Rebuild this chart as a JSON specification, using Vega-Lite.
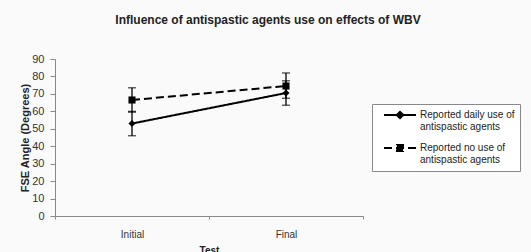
{
  "$schema": "https://vega.github.io/schema/vega-lite/v6.json",
  "autosize": "none",
  "width": 308,
  "height": 157,
  "padding": {"left": 55, "top": 59, "right": 168, "bottom": 36},
  "background": "#fafafa",
  "title": {
    "text": "Influence of antispastic agents use on effects of WBV",
    "anchor": "middle",
    "dx": 59,
    "offset": 26,
    "font": "Liberation Sans",
    "fontSize": 12,
    "fontWeight": "bold",
    "color": "#222222"
  },
  "data": {
    "values": [
      {"group": "daily", "test": "Initial", "mean": 53, "lo": 46, "hi": 60},
      {"group": "daily", "test": "Final", "mean": 70.5, "lo": 63.5, "hi": 77.5},
      {"group": "none", "test": "Initial", "mean": 66.5, "lo": 59.5, "hi": 73.5},
      {"group": "none", "test": "Final", "mean": 74.5, "lo": 67.5, "hi": 82}
    ]
  },
  "encoding": {
    "x": {
      "field": "test",
      "type": "nominal",
      "sort": ["Initial", "Final"],
      "scale": {"paddingInner": 0, "paddingOuter": 0},
      "axis": {"title": "Test", "labelAngle": 0, "tickBand": "extent"}
    }
  },
  "layer": [
    {
      "mark": {"type": "rule", "color": "black", "strokeWidth": 1.3},
      "encoding": {
        "y": {
          "field": "lo",
          "type": "quantitative",
          "scale": {"domain": [0, 90], "nice": false},
          "title": "FSE Angle (Degrees)"
        },
        "y2": {"field": "hi"}
      }
    },
    {
      "mark": {"type": "tick", "color": "black", "size": 8, "thickness": 1.3, "orient": "horizontal"},
      "encoding": {"y": {"field": "lo", "type": "quantitative"}}
    },
    {
      "mark": {"type": "tick", "color": "black", "size": 8, "thickness": 1.3, "orient": "horizontal"},
      "encoding": {"y": {"field": "hi", "type": "quantitative"}}
    },
    {
      "mark": {"type": "line", "color": "black", "strokeWidth": 2},
      "encoding": {
        "y": {"field": "mean", "type": "quantitative"},
        "detail": {"field": "group"},
        "strokeDash": {
          "field": "group",
          "type": "nominal",
          "scale": {"domain": ["daily", "none"], "range": [[1, 0], [8, 4]]},
          "legend": {
            "title": null,
            "orient": "none",
            "legendX": 317,
            "legendY": 45,
            "padding": 5,
            "symbolOffset": 6,
            "fillColor": "#ffffff",
            "strokeColor": "#888888",
            "cornerRadius": 0,
            "symbolSize": 1024,
            "clipHeight": 24,
            "symbolStrokeWidth": 2,
            "symbolStrokeColor": "black",
            "labelOffset": 3,
            "rowPadding": 9,
            "labelFont": "Liberation Sans",
            "labelFontSize": 10,
            "labelColor": "#222222",
            "labelLimit": 200,
            "labelExpr": "datum.label == 'daily' ? ['Reported daily use of', 'antispastic agents'] : ['Reported no use of', 'antispastic agents']",
            "encode": {
              "symbols": {
                "update": {
                  "shape": {"signal": "datum.value == 'daily' ? 'M -1 -0.375 L 1 -0.375 M -0.2 -0.375 L 0 -0.575 L 0.2 -0.375 L 0 -0.175 Z' : 'M -1 -0.375 L 1 -0.375 M -0.19 -0.565 L 0.19 -0.565 L 0.19 -0.185 L -0.19 -0.185 Z'"},
                  "fill": {"value": "black"},
                  "stroke": {"value": "black"},
                  "strokeWidth": {"value": 2}
                }
              },
              "labels": {
                "update": {"dy": {"value": -6}}
              }
            }
          }
        }
      }
    },
    {
      "transform": [{"filter": "datum.group == 'daily'"}],
      "mark": {"type": "point", "filled": true, "color": "black", "opacity": 1, "size": 50, "shape": "diamond"},
      "encoding": {"y": {"field": "mean", "type": "quantitative"}}
    },
    {
      "transform": [{"filter": "datum.group == 'none'"}],
      "mark": {"type": "point", "filled": true, "color": "black", "opacity": 1, "size": 50, "shape": "square"},
      "encoding": {"y": {"field": "mean", "type": "quantitative"}}
    }
  ],
  "config": {
    "view": {"stroke": null},
    "axisX": {
      "tickSize": 3,
      "labelPadding": 10,
      "titlePadding": 6,
      "domainColor": "#888888",
      "tickColor": "#888888",
      "labelFont": "Liberation Sans",
      "labelFontSize": 10,
      "labelColor": "#333333",
      "titleFont": "Liberation Sans",
      "titleFontSize": 10,
      "titleFontWeight": "bold",
      "titleColor": "#222222"
    },
    "axisY": {
      "tickCount": 10,
      "grid": false,
      "tickSize": 5,
      "labelPadding": 6,
      "titlePadding": 1,
      "domainColor": "#888888",
      "tickColor": "#888888",
      "labelFont": "Liberation Sans",
      "labelFontSize": 11,
      "labelColor": "#333333",
      "labelOverlap": false,
      "titleFont": "Liberation Sans",
      "titleFontSize": 11,
      "titleFontWeight": "bold",
      "titleColor": "#222222"
    }
  }
}
